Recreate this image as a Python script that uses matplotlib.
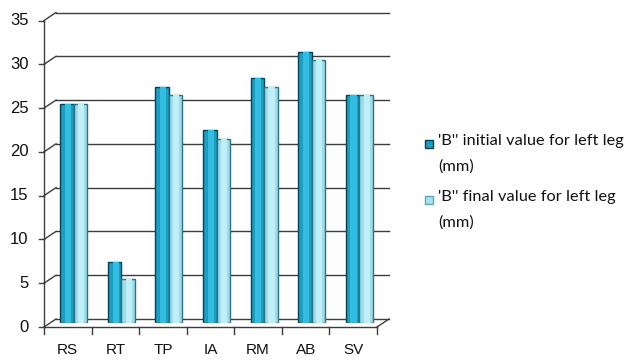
import matplotlib
matplotlib.use('Agg')
import matplotlib.pyplot as plt
from matplotlib.transforms import ScaledTranslation, IdentityTransform
from matplotlib.lines import Line2D
from matplotlib.patches import Rectangle

# data
categories = ['RS', 'RT', 'TP', 'IA', 'RM', 'AB', 'SV']
initial_vals = [25, 7, 27, 22, 28, 31, 26]
final_vals = [25, 5, 26, 21, 27, 30, 26]
yticks = [0, 5, 10, 15, 20, 25, 30, 35]
labels = ["'B'' initial value for left leg\n(mm)", "'B'' final value for left leg\n(mm)"]

plt.rcParams['font.family'] = ['Liberation Sans', 'DejaVu Sans']

fig = plt.figure(figsize=(6.3, 3.6), dpi=100)
# axes = middle depth plane of the pseudo-3D box
ax = fig.add_axes([50 / 630, 1 - 323 / 360, 333 / 630, (323 - 16.5) / 360])
ax.set_xlim(-0.5, 6.5)
ax.set_ylim(0, 35)
ax.axis('off')

# depth offsets (6px right / 4px up for the back wall, opposite for the front)
back = ax.transData + ScaledTranslation(0.06, 0.04, fig.dpi_scale_trans)
front = ax.transData + ScaledTranslation(-0.06, -0.04, fig.dpi_scale_trans)
gc = '#3c3c3c'
x0, x1 = -0.5, len(categories) - 0.5


def diag(x, y, tr_a, tr_b, dx_a=0, dy_a=0):
    pa = tr_a.transform((x, y))
    pb = tr_b.transform((x, y))
    fig.add_artist(Line2D([pa[0] + dx_a, pb[0]], [pa[1] + dy_a, pb[1]],
                          transform=IdentityTransform(), color=gc, lw=1))


# back wall gridlines + diagonals to the front axis
for v in yticks:
    ax.plot([x0, x1], [v, v], transform=back, color=gc, lw=1, clip_on=False)
    diag(x0, v, front, back)
    # tick marks on front axis
    diag(x0, v, front, front, dx_a=-5)
    ax.text(x0, v, str(v), transform=front + ScaledTranslation(-0.155, 0, fig.dpi_scale_trans),
            ha='right', va='center', fontsize=12, color='#111111')

# floor right edge and front axis
diag(x1, 0, front, back)
ax.plot([x0, x0], [0, 35], transform=front, color=gc, lw=1, clip_on=False)
ax.plot([x0, x1], [0, 0], transform=front, color=gc, lw=1, clip_on=False)
for i in range(len(categories) + 1):
    diag(x0 + i, 0, front, front, dy_a=-7)
for i, c in enumerate(categories):
    ax.text(i, 0, c, transform=front + ScaledTranslation(0, -0.23, fig.dpi_scale_trans),
            ha='center', va='center', fontsize=11, color='#111111')

# cylinder-ish bars
w = 0.285
xs = list(range(len(categories)))
x_init = [x - w / 2 for x in xs]
x_fin = [x + w / 2 for x in xs]

ax.bar(x_init, initial_vals, width=w, color='#1a9fc2', edgecolor='#0c3f52', lw=1, zorder=3)
ax.bar([x + w * 0.08 for x in x_init], initial_vals, width=w * 0.45, color='#33bde0', lw=0, zorder=4)
ax.bar(x_fin, final_vals, width=w, color='#9fdbe9', edgecolor='#2f6f82', lw=1, zorder=3)
ax.bar([x + w * 0.05 for x in x_fin], final_vals, width=w * 0.45, color='#bff0f8', lw=0, zorder=4)

# legend, drawn by hand so the swatch sits on the first text line
swatches = [('#1a9fc2', '#0c3f52'), ('#a9e2ee', '#5aaabd')]
for k, (lab, (fc, ec)) in enumerate(zip(labels, swatches)):
    ytop = 1 - (144 + 56 * k) / 360
    fig.add_artist(Rectangle((425 / 630, ytop - 4 / 360), 8 / 630, 8 / 360,
                             transform=fig.transFigure, facecolor=fc, edgecolor=ec, lw=1))
    fig.text(438 / 630, ytop + 10 / 360, lab, ha='left', va='top', fontsize=11.8,
             family=['Lato', 'DejaVu Sans'], linespacing=2.0, color='#111111')

fig.savefig('out.png', dpi=100)
